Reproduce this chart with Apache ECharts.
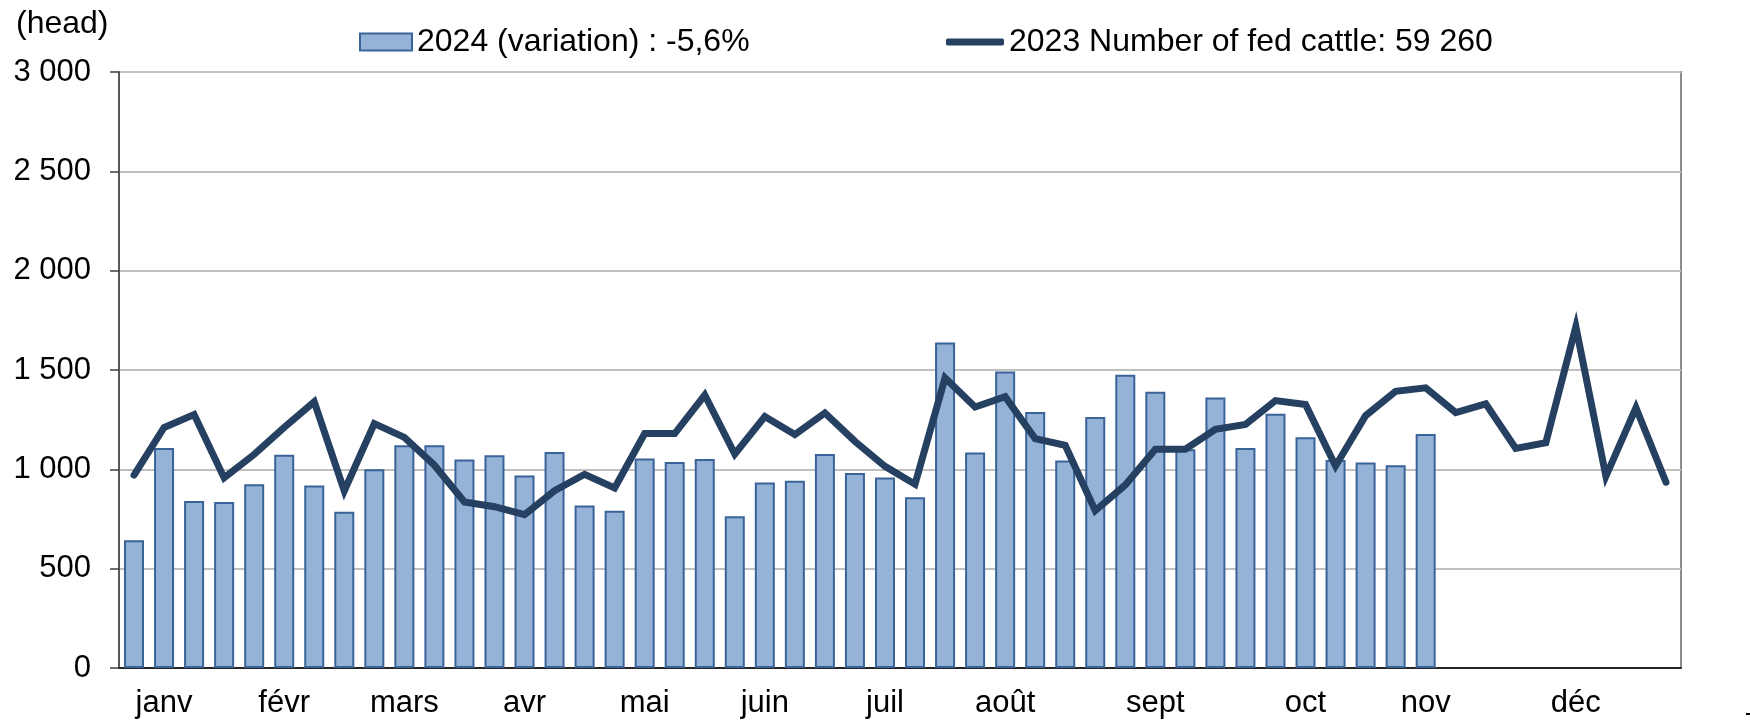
<!DOCTYPE html>
<html>
<head>
<meta charset="utf-8">
<title>fed cattle</title>
<script src="https://cdn.jsdelivr.net/npm/echarts@6/dist/echarts.min.js"></script>
<style>
    html, body { margin: 0; padding: 0; background: #fff; }
    #chart { width: 1750px; height: 724px; }
</style>
</head>
<body>
<div id="chart"></div>
<script>
// semaines (52), le nom du mois n'apparait que sous certaines semaines
var weeks = [];
for (var i = 1; i <= 52; i++) {
    weeks.push('S' + i);
}
var monthLabels = {
    1: 'janv', 5: 'févr', 9: 'mars', 13: 'avr', 17: 'mai', 21: 'juin',
    25: 'juil', 29: 'août', 34: 'sept', 39: 'oct', 43: 'nov', 48: 'déc'
};

// 2024 : barres (jusqu'a début novembre)
var data2024 = [
    643, 1107, 840, 836, 925, 1073, 919, 786, 1000, 1121,
    1121, 1049, 1071, 969, 1087, 818, 792, 1055, 1037, 1052,
    764, 934, 942, 1077, 981, 959, 860, 1639, 1085, 1493,
    1288, 1045, 1264, 1476, 1390, 1101, 1362, 1107, 1280, 1161,
    1047, 1035, 1021, 1178
];

// 2023 : ligne (année complète)
var data2023 = [
    971, 1211, 1276, 957, 1075, 1211, 1340, 892, 1230, 1161,
    1021, 836, 812, 772, 892, 975, 906, 1180, 1180, 1374,
    1077, 1266, 1175, 1284, 1141, 1015, 925, 1460, 1314, 1366,
    1155, 1121, 792, 921, 1101, 1101, 1201, 1226, 1346, 1326,
    1017, 1270, 1393, 1410, 1286, 1330, 1105, 1134, 1718, 965,
    1310, 935
];

var name2024 = '2024 (variation) : -5,6%';
var name2023 = '2023 Number of fed cattle: 59 260';

var font = 'Liberation Sans, Arial, sans-serif';

// 3000 -> "3 000"
function formatHead(v) {
    if (v < 1000) {
        return String(v);
    }
    var rest = String(v % 1000);
    while (rest.length < 3) {
        rest = '0' + rest;
    }
    return Math.floor(v / 1000) + ' ' + rest;
}

var chart = echarts.init(document.getElementById('chart'));

var option = {
    animation: false,
    textStyle: { fontFamily: font },
    grid: {
        left: 119,
        right: 69,
        top: 72,
        bottom: 56,
        show: true,
        borderColor: '#8c8c8c',
        borderWidth: 2
    },
    legend: [{
            data: [name2024],
            left: 359,
            top: 26,
            padding: 0,
            itemWidth: 52,
            itemHeight: 17,
            itemGap: 5,
            icon: 'rect',
            textStyle: { fontSize: 32, color: '#000', fontFamily: font }
        },
        {
            data: [name2023],
            left: 946,
            top: 26,
            padding: 0,
            itemWidth: 58,
            itemHeight: 7,
            icon: 'roundRect',
            textStyle: { fontSize: 32, color: '#000', fontFamily: font }
        }
    ],
    graphic: [{
            type: 'text',
            left: 16,
            top: 8,
            style: {
                text: '(head)',
                fontSize: 32,
                fontFamily: font,
                fill: '#000'
            }
        },
        {
            type: 'rect',
            shape: { x: 1746, y: 713, width: 4, height: 2 },
            style: { fill: '#000' }
        }
    ],
    xAxis: {
        type: 'category',
        data: weeks,
        boundaryGap: true,
        axisLine: { lineStyle: { color: '#262626', width: 2 } },
        axisTick: {
            interval: 3,
            length: 10,
            lineStyle: { color: '#262626', width: 1.5 }
        },
        axisLabel: {
            interval: 0,
            margin: 20,
            fontSize: 31,
            color: '#000',
            fontFamily: font,
            formatter: function(value, index) {
                return monthLabels[index] || '';
            }
        },
        splitLine: { show: false }
    },
    yAxis: {
        type: 'value',
        min: 0,
        max: 3000,
        interval: 500,
        axisLine: { show: true, lineStyle: { color: '#595959', width: 2 } },
        axisTick: { show: true, length: 9, lineStyle: { color: '#404040', width: 1.5 } },
        axisLabel: {
            margin: 28,
            fontSize: 31,
            color: '#000',
            fontFamily: font,
            formatter: formatHead
        },
        splitLine: { lineStyle: { color: '#c0c0c0', width: 2 } }
    },
    series: [{
            name: name2024,
            type: 'bar',
            data: data2024,
            barWidth: 20,
            itemStyle: {
                color: '#95b3d7',
                borderColor: '#3a6399',
                borderWidth: 2
            }
        },
        {
            name: name2023,
            type: 'line',
            data: data2023,
            symbol: 'none',
            itemStyle: { color: '#254061' },
            lineStyle: { color: '#254061', width: 7, cap: 'round', join: 'miter' },
            z: 3
        }
    ]
};

chart.setOption(option);
</script>
</body>
</html>
